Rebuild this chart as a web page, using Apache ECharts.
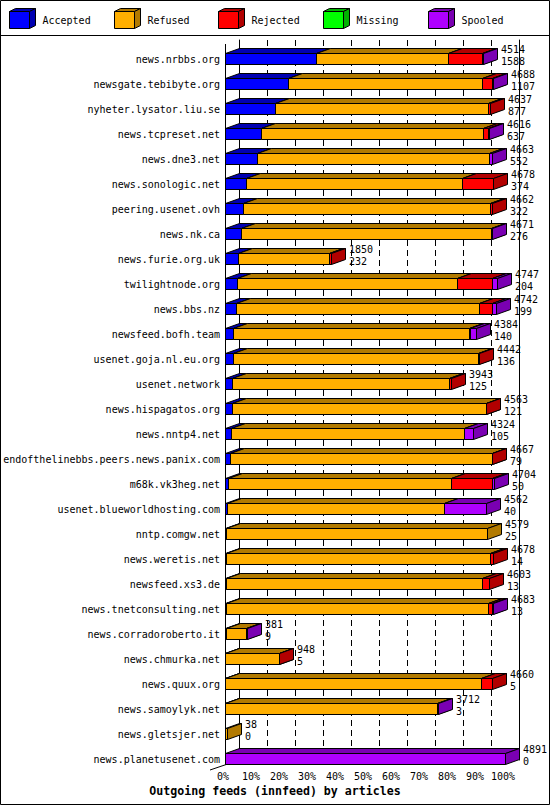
<!DOCTYPE html>
<html><head><meta charset="utf-8">
<script src="https://cdn.jsdelivr.net/npm/echarts@6/dist/echarts.min.js"></script>
<style>html,body{margin:0;padding:0;background:#fff}#c{width:550px;height:805px}</style>
</head><body><div id="c"></div>
<script>
const hosts = ['news.nrbbs.org','newsgate.tebibyte.org','nyheter.lysator.liu.se','news.tcpreset.net','news.dne3.net','news.sonologic.net','peering.usenet.ovh','news.nk.ca','news.furie.org.uk','twilightnode.org','news.bbs.nz','newsfeed.bofh.team','usenet.goja.nl.eu.org','usenet.network','news.hispagatos.org','news.nntp4.net','endofthelinebbs.peers.news.panix.com','m68k.vk3heg.net','usenet.blueworldhosting.com','nntp.comgw.net','news.weretis.net','newsfeed.xs3.de','news.tnetconsulting.net','news.corradoroberto.it','news.chmurka.net','news.quux.org','news.samoylyk.net','news.gletsjer.net','news.planetusenet.com'];
const totals   = [4514,4688,4637,4616,4663,4678,4662,4671,1850,4747,4742,4384,4442,3943,4563,4324,4667,4704,4562,4579,4678,4603,4683,381,948,4660,3712,38,4891];
const accepted = [1588,1107,877,637,552,374,322,276,232,204,199,140,136,125,121,105,79,50,40,25,14,13,13,9,5,5,3,0,0];
const refused  = [2313,3377,3722,3875,4065,3771,4307,4365,1590,3854,4243,4128,4290,3793,4433,4075,4579,3898,3791,4554,4610,4471,4586,352,930,4461,3694,38,0];
const rejected = [594,174,38,87,0,533,33,0,28,600,216,20,16,25,9,0,9,710,0,0,54,119,59,0,13,194,0,0,0];
const missing  = [0,0,0,0,0,0,0,0,0,0,0,0,0,0,0,0,0,0,0,0,0,0,0,0,0,0,0,0,0];
const spooled  = [19,30,0,17,46,0,0,30,0,89,84,96,0,0,0,144,0,46,731,0,0,0,25,20,0,0,15,0,4891];
const seriesNames = ['Accepted','Refused','Rejected','Missing','Spooled'];
const xTickLabels = ['0%','10%','20%','30%','40%','50%','60%','70%','80%','90%','100%'];
const titleText = 'Outgoing feeds (innfeed) by articles';

const frontColors = ['#0000FF','#FFAF00','#FF0000','#00FF00','#AF00FF'];
const darkColors  = ['#0000B2','#B27A00','#B20000','#00B200','#7A00B2'];
const FONT = '"DejaVu Sans Mono", monospace';
const DX = 14, DY = 5;

const values = [accepted, refused, rejected, missing, spooled];
const MAX = Math.max(...totals);
const pct = v => v / MAX * 100;

function segData(si) {
  return hosts.map((h, i) => {
    let start = 0;
    for (let k = 0; k < si; k++) start += values[k][i];
    return [pct(start), pct(start + values[si][i]), i, values[si][i]];
  });
}

function makeRender(si) {
  return function (params, api) {
    const v = api.value(3);
    if (!(v > 0)) return null;
    const row = api.value(2);
    const p0 = api.coord([api.value(0), row]);
    const p1 = api.coord([api.value(1), row]);
    const x0 = Math.round(p0[0]) + 0.5, x1 = Math.round(p1[0]) + 0.5;
    const t = Math.round(p0[1] - 6) + 0.5, b = t + 11;
    const st = { stroke: '#000', lineWidth: 1 };
    return {
      type: 'group',
      children: [
        { type: 'polygon', shape: { points: [[x0, t], [x1, t], [x1, b], [x0, b]] }, style: Object.assign({ fill: frontColors[si] }, st) },
        { type: 'polygon', shape: { points: [[x0, t], [x1, t], [x1 + DX, t - DY], [x0 + DX, t - DY]] }, style: Object.assign({ fill: darkColors[si] }, st) },
        { type: 'polygon', shape: { points: [[x1, t], [x1 + DX, t - DY], [x1 + DX, b - DY], [x1, b]] }, style: Object.assign({ fill: darkColors[si] }, st) }
      ]
    };
  };
}

const series = seriesNames.map((name, si) => ({
  type: 'custom', name, xAxisIndex: 0, yAxisIndex: 0, z: 3 + si, clip: false,
  encode: { x: [0, 1], y: 2 },
  data: segData(si),
  renderItem: makeRender(si)
}));

series.push({
  type: 'custom', name: 'labels', xAxisIndex: 0, yAxisIndex: 0, z: 10, clip: false,
  encode: { x: 0, y: 1 },
  data: totals.map((t, i) => [pct(t), i]),
  renderItem: function (params, api) {
    const i = params.dataIndex;
    const p = api.coord([api.value(0), api.value(1)]);
    const x = Math.round(p[0]) + 18, c = p[1];
    const ts = { font: '10px ' + FONT, fill: '#000', verticalAlign: 'middle', align: 'left' };
    return {
      type: 'group', children: [
        { type: 'text', x, y: Math.round(c - 10), style: Object.assign({ text: String(totals[i]) }, ts) },
        { type: 'text', x, y: Math.round(c + 2), style: Object.assign({ text: String(accepted[i]) }, ts) }
      ]
    };
  }
});

// legend drawn as 3D cubes
const legendGraphics = [];
seriesNames.forEach((name, i) => {
  const lx = Math.round(9 + 104.7 * i) + 0.5;
  const st = { stroke: '#000', lineWidth: 1 };
  legendGraphics.push({
    type: 'group', children: [
      { type: 'polygon', shape: { points: [[lx, 11.5], [lx + 20, 11.5], [lx + 20, 28.5], [lx, 28.5]] }, style: Object.assign({ fill: frontColors[i] }, st) },
      { type: 'polygon', shape: { points: [[lx, 11.5], [lx + 20, 11.5], [lx + 26, 8.5], [lx + 6, 8.5]] }, style: Object.assign({ fill: darkColors[i] }, st) },
      { type: 'polygon', shape: { points: [[lx + 20, 11.5], [lx + 26, 8.5], [lx + 26, 25.5], [lx + 20, 28.5]] }, style: Object.assign({ fill: darkColors[i] }, st) }
    ]
  });
  legendGraphics.push({ type: 'text', x: lx + 33, y: 20, style: { text: name, font: '10px ' + FONT, fill: '#000', verticalAlign: 'middle' } });
});

const chart = echarts.init(document.getElementById('c'), null, { renderer: 'svg', width: 550, height: 805 });
chart.setOption({
  backgroundColor: '#fff',
  animation: false,
  title: {
    text: titleText, left: 'center', top: 785, padding: 0,
    textStyle: { fontFamily: FONT, fontWeight: 'bold', fontSize: 11.6, color: '#000', lineHeight: 12 }
  },
  grid: [
    { left: 225, width: 280, top: 46.7, height: 725 },
    { left: 239, width: 280, top: 40, height: 720 }
  ],
  xAxis: [
    { type: 'value', gridIndex: 0, min: 0, max: 100, interval: 10,
      axisLine: { show: false }, axisTick: { show: false }, splitLine: { show: false },
      axisLabel: { margin: 0, padding: [0, 4, 0, 0], fontFamily: FONT, fontSize: 10, color: '#000',
        formatter: (v) => xTickLabels[Math.round(v / 10)] } },
    { type: 'value', gridIndex: 1, min: 0, max: 100, interval: 10,
      axisLine: { show: false }, axisTick: { show: false }, axisLabel: { show: false },
      splitLine: { show: true, lineStyle: { color: '#000', width: 1, type: [6, 4] } } }
  ],
  yAxis: [
    { type: 'category', gridIndex: 0, data: hosts, inverse: true,
      axisLine: { show: false }, axisTick: { show: false }, splitLine: { show: false },
      axisLabel: { margin: 5, fontFamily: FONT, fontSize: 10, color: '#000' } },
    { type: 'value', gridIndex: 1, min: 0, max: 1, position: 'left',
      axisLine: { show: true, lineStyle: { color: '#000', width: 1 } },
      axisTick: { show: false }, axisLabel: { show: false }, splitLine: { show: false } },
    { type: 'value', gridIndex: 1, min: 0, max: 1, position: 'right',
      axisLine: { show: true, lineStyle: { color: '#000', width: 1 } },
      axisTick: { show: false }, axisLabel: { show: false }, splitLine: { show: false } }
  ],
  graphic: [
    { type: 'rect', z: 0, shape: { x: 0.5, y: 0.5, width: 549, height: 804 }, style: { fill: 'none', stroke: '#000', lineWidth: 1 } },
    { type: 'line', z: 0, shape: { x1: 0, y1: 35.5, x2: 550, y2: 35.5 }, style: { stroke: '#000', lineWidth: 1 } },
    { type: 'line', z: 1, shape: { x1: 225.5, y1: 44, x2: 225.5, y2: 765 }, style: { stroke: '#000', lineWidth: 1 } },
    { type: 'line', z: 1, shape: { x1: 239.5, y1: 760, x2: 210, y2: 770 }, style: { stroke: '#000', lineWidth: 1 } }
  ].concat(legendGraphics),
  series
});
</script></body></html>
